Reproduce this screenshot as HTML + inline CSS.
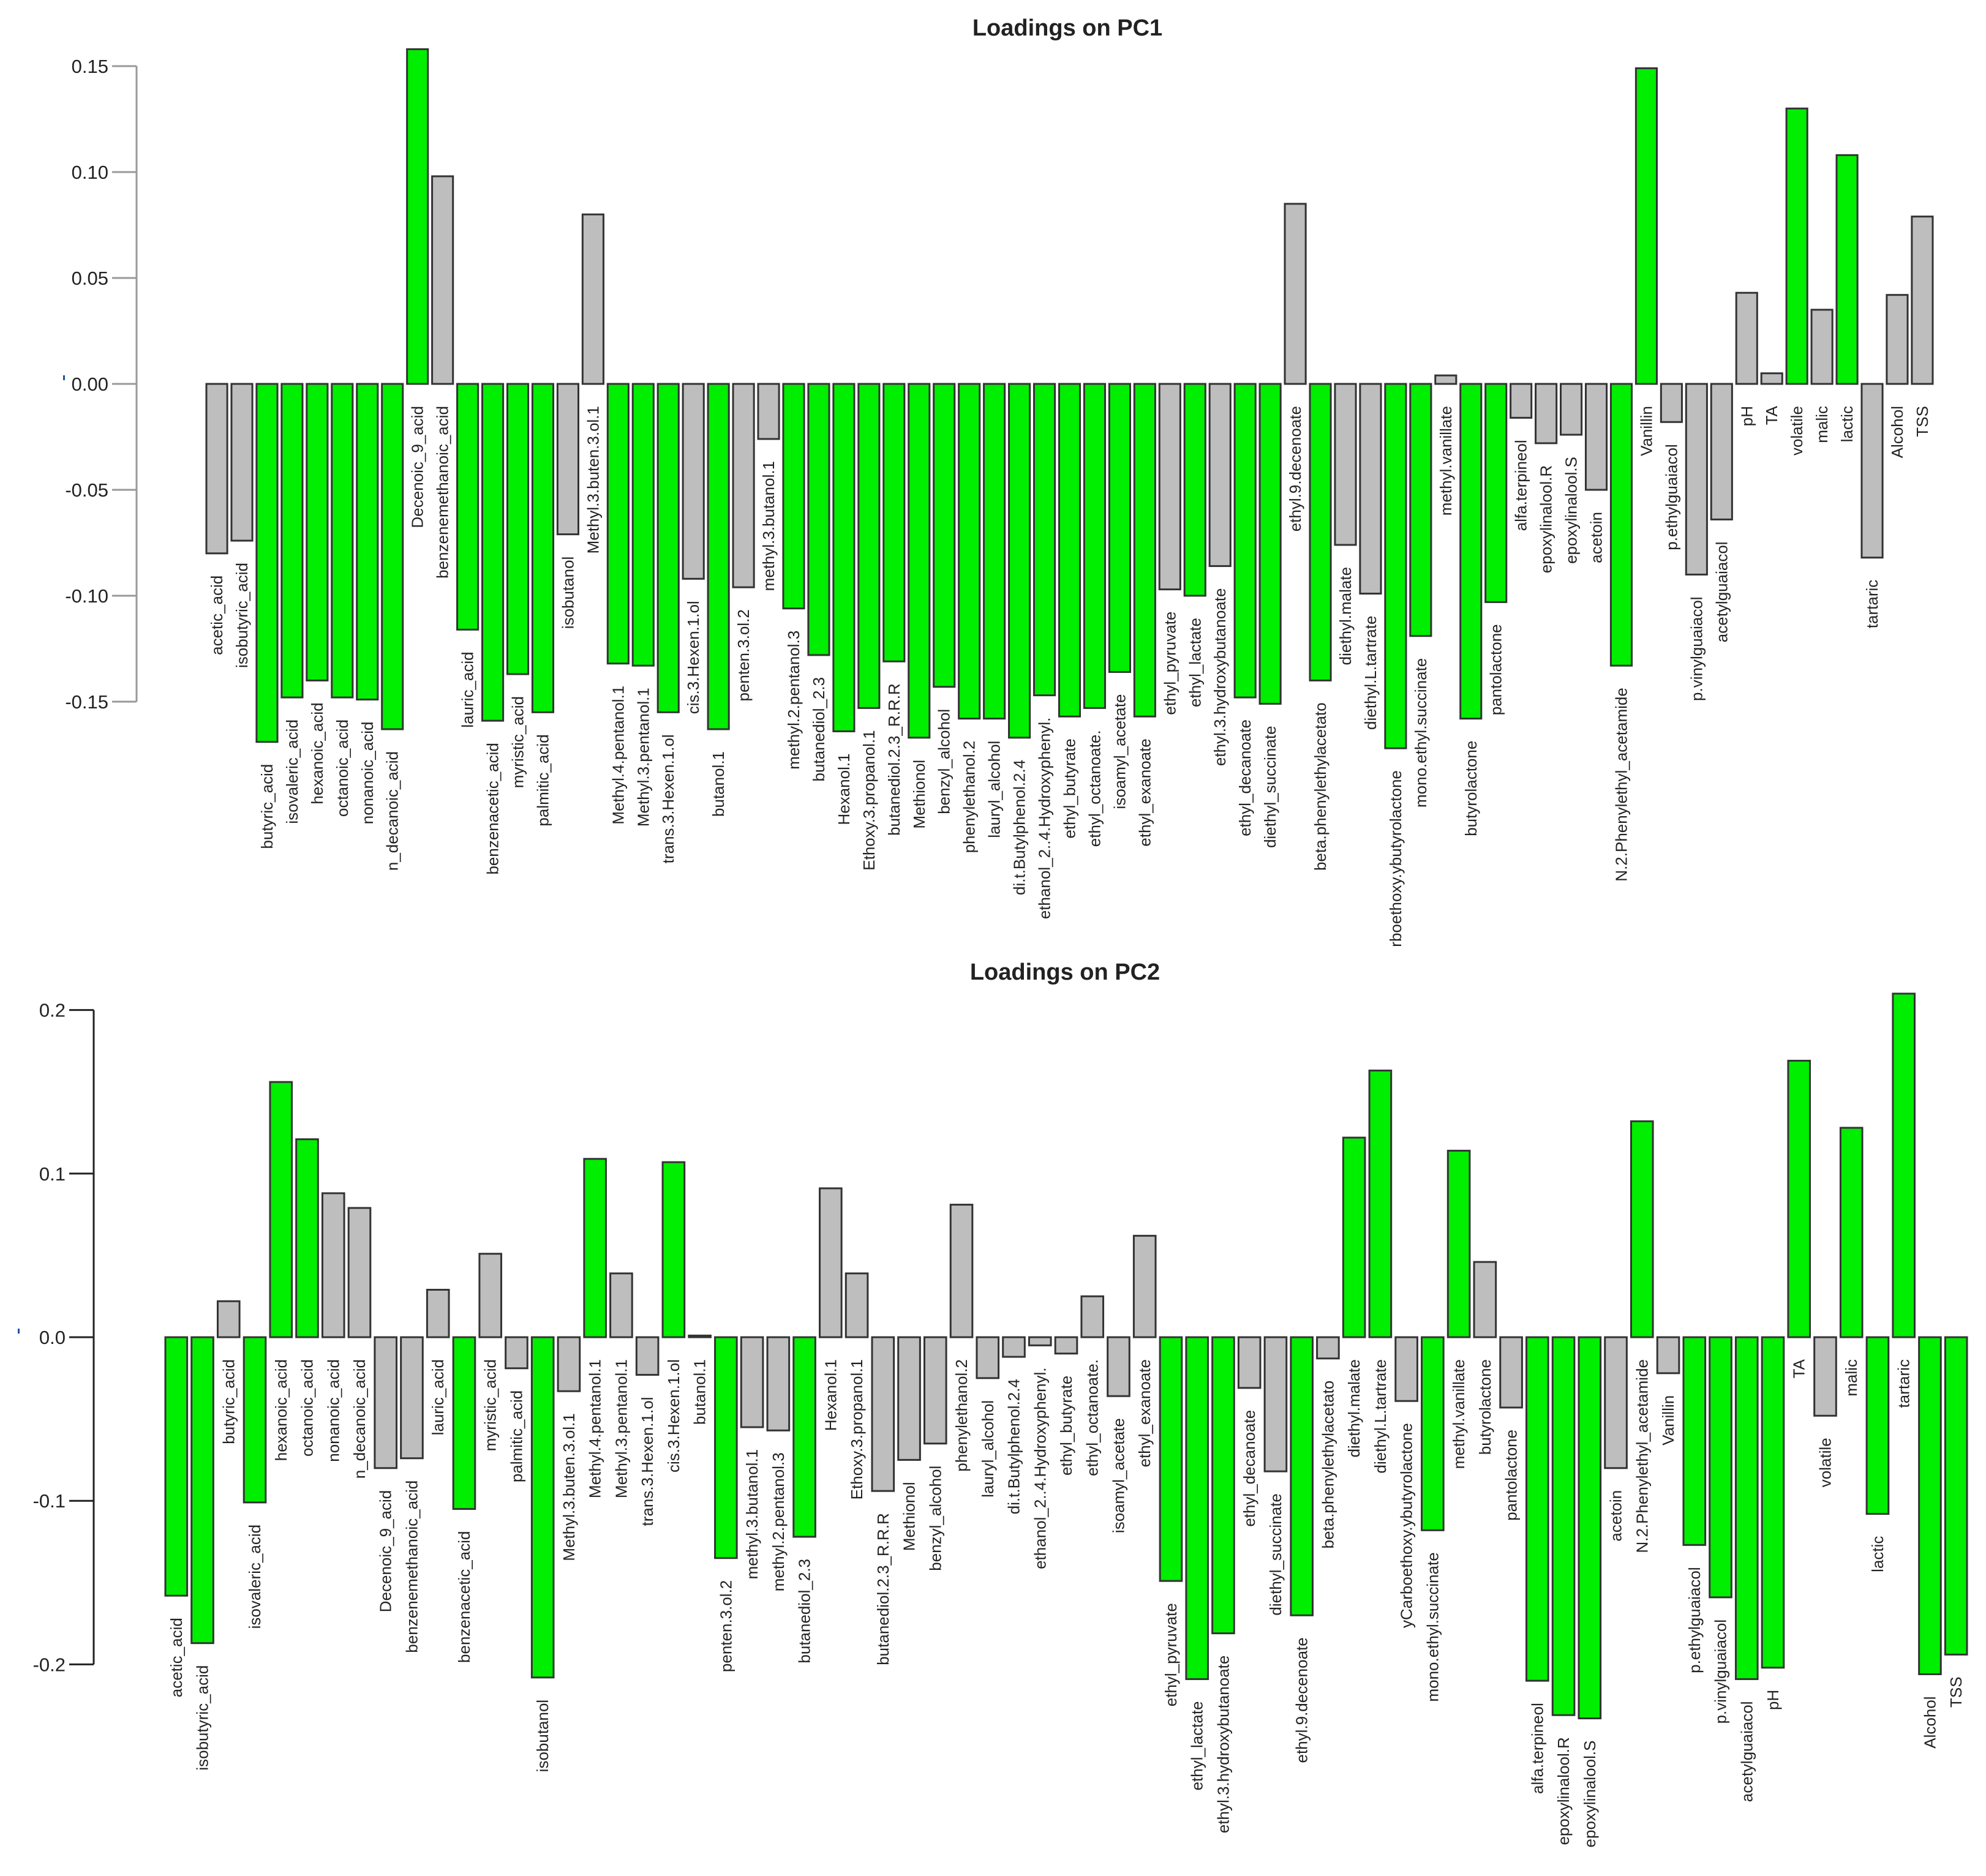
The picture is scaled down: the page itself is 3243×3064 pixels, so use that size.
<!DOCTYPE html>
<html><head><meta charset="utf-8"><style>
html,body{margin:0;padding:0;background:#fff;}
svg{display:block;position:absolute;left:0;}
text{font-family:"Liberation Sans",Arial,sans-serif;fill:#222;}
</style></head>
<body>
<svg id="pc1" width="3243" height="1545" style="top:0"></svg>
<svg id="pc2" width="3243" height="1519" style="top:1545"></svg>
<script>
const names1 = ["acetic_acid","isobutyric_acid","butyric_acid","isovaleric_acid","hexanoic_acid","octanoic_acid","nonanoic_acid","n_decanoic_acid","Decenoic_9_acid","benzenemethanoic_acid","lauric_acid","benzenacetic_acid","myristic_acid","palmitic_acid","isobutanol","Methyl.3.buten.3.ol.1","Methyl.4.pentanol.1","Methyl.3.pentanol.1","trans.3.Hexen.1.ol","cis.3.Hexen.1.ol","butanol.1","penten.3.ol.2","methyl.3.butanol.1","methyl.2.pentanol.3","butanediol_2.3","Hexanol.1","Ethoxy.3.propanol.1","butanediol.2.3_R.R.R","Methionol","benzyl_alcohol","phenylethanol.2","lauryl_alcohol","di.t.Butylphenol.2.4","ethanol_2..4.Hydroxyphenyl.","ethyl_butyrate","ethyl_octanoate.","isoamyl_acetate","ethyl_exanoate","ethyl_pyruvate","ethyl_lactate","ethyl.3.hydroxybutanoate","ethyl_decanoate","diethyl_succinate","ethyl.9.decenoate","beta.phenylethylacetato","diethyl.malate","diethyl.L.tartrate","yCarboethoxy.ybutyrolactone","mono.ethyl.succinate","methyl.vanillate","butyrolactone","pantolactone","alfa.terpineol","epoxylinalool.R","epoxylinalool.S","acetoin","N.2.Phenylethyl_acetamide","Vanillin","p.ethylguaiacol","p.vinylguaiacol","acetylguaiacol","pH","TA","volatile","malic","lactic","tartaric","Alcohol","TSS"];
const names2 = names1.slice();
const pc1Values = [-0.080,-0.074,-0.169,-0.148,-0.140,-0.148,-0.149,-0.163,0.158,0.098,-0.116,-0.159,-0.137,-0.155,-0.071,0.080,-0.132,-0.133,-0.155,-0.092,-0.163,-0.096,-0.026,-0.106,-0.128,-0.164,-0.153,-0.131,-0.167,-0.143,-0.158,-0.158,-0.167,-0.147,-0.157,-0.153,-0.136,-0.157,-0.097,-0.100,-0.086,-0.148,-0.151,0.085,-0.140,-0.076,-0.099,-0.172,-0.119,0.004,-0.158,-0.103,-0.016,-0.028,-0.024,-0.050,-0.133,0.149,-0.018,-0.090,-0.064,0.043,0.005,0.130,0.035,0.108,-0.082,0.042,0.079];
const pc2Values = [-0.158,-0.187,0.022,-0.101,0.156,0.121,0.088,0.079,-0.080,-0.074,0.029,-0.105,0.051,-0.019,-0.208,-0.033,0.109,0.039,-0.023,0.107,0.001,-0.135,-0.055,-0.057,-0.122,0.091,0.039,-0.094,-0.075,-0.065,0.081,-0.025,-0.012,-0.005,-0.010,0.025,-0.036,0.062,-0.149,-0.209,-0.181,-0.031,-0.082,-0.170,-0.013,0.122,0.163,-0.039,-0.118,0.114,0.046,-0.043,-0.210,-0.231,-0.233,-0.080,0.132,-0.022,-0.127,-0.159,-0.209,-0.202,0.169,-0.048,0.128,-0.108,0.210,-0.206,-0.194];
const pc1Ticks = [0.15,0.10,0.05,0.00,-0.05,-0.10,-0.15];
const pc1TickLabels = ["0.15","0.10","0.05","0.00","-0.05","-0.10","-0.15"];
const pc2Ticks = [0.2,0.1,0.0,-0.1,-0.2];
const pc2TickLabels = ["0.2","0.1","0.0","-0.1","-0.2"];
const threshold = 0.1;

const NS = "http://www.w3.org/2000/svg";
function mk(tag, attrs, parent){const e=document.createElementNS(NS,tag);for(const k in attrs)e.setAttribute(k,attrs[k]);parent.appendChild(e);return e;}

function draw(cfg){
  const svg=document.getElementById(cfg.id);
  const y = v => cfg.y0 - v*cfg.pxPerUnit - cfg.offY;
  const n = cfg.values.length;
  const w = (cfg.xEnd - cfg.xStart)/(n*1.2 - 0.2);
  const xb = i => cfg.xStart + i*1.2*w;
  const t=mk("text",{x:cfg.titleX,y:cfg.titleY-cfg.offY,"text-anchor":"middle","font-size":38,"font-weight":"bold"},svg);
  t.textContent=cfg.title;
  
  
  const ax=mk("line",{x1:cfg.axisX,x2:cfg.axisX,y1:y(cfg.ticks[0]),y2:y(cfg.ticks[cfg.ticks.length-1]),stroke:cfg.axisColor,"stroke-width":3},svg);
  
  
  cfg.ticks.forEach((tv,i)=>{
    const tk=mk("line",{x1:cfg.axisX-40,x2:cfg.axisX,y1:y(tv),y2:y(tv),stroke:cfg.axisColor,"stroke-width":3},svg);
    
    
    const tl=mk("text",{x:cfg.axisX-46,y:y(tv)+11,"text-anchor":"end","font-size":31},svg);
    tl.textContent=cfg.tickLabels[i];
    
    
  });
  const bm=mk("rect",{x:cfg.blueX,y:y(0)-14,width:3,height:8,fill:"#2050a0"},svg);
  
  
  cfg.values.forEach((v,i)=>{
    const top=Math.min(y(v),y(0)), bot=Math.max(y(v),y(0));
    const r=mk("rect",{x:xb(i),y:top,width:w,height:Math.max(bot-top,1),fill:Math.abs(v)>=threshold?"#00ee00":"#bebebe",stroke:"#333","stroke-width":3},svg);
    
    
    const ly=bot+36, lx=xb(i)+w/2+9;
    const lt=mk("text",{transform:`translate(${lx},${ly}) rotate(-90)`,"text-anchor":"end","font-size":26},svg);
    lt.textContent=cfg.names[i];
    
    
  });
}
draw({id:"pc1",title:"Loadings on PC1",titleX:1743,titleY:58,offY:0,values:pc1Values,names:names1,ticks:pc1Ticks,tickLabels:pc1TickLabels,y0:627,pxPerUnit:3460,axisX:223,axisColor:"#999",xStart:337,xEnd:3156,blueX:103});
draw({id:"pc2",title:"Loadings on PC2",titleX:1739,titleY:1600,offY:1545,values:pc2Values,names:names2,ticks:pc2Ticks,tickLabels:pc2TickLabels,y0:2184,pxPerUnit:2672,axisX:153,axisColor:"#222",xStart:270,xEnd:3212,blueX:29});
</script>
</body></html>
